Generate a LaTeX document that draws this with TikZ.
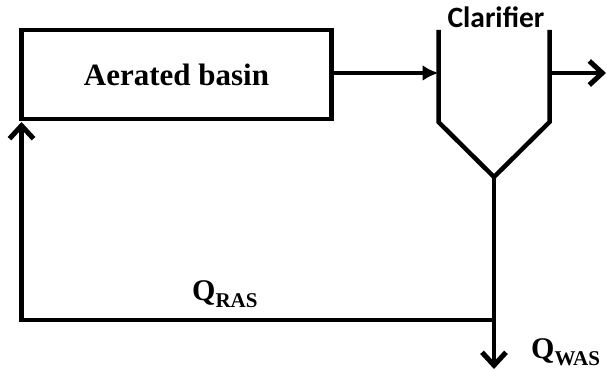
\documentclass[tikz,border=0pt]{standalone}
\usepackage{fontspec}
\setmainfont{Liberation Serif}
\newfontfamily\calfont{Carlito}
\usetikzlibrary{arrows.meta}
\tikzset{
  flow/.style={line width=4.5pt},
  inarrow/.style={flow,-{Latex[length=16pt,width=16pt]}},
  barb/.style={flow,-{Straight Barb[length=13pt,width=24pt,line width=5pt]}},
  qlabel/.style={anchor=base west,inner sep=0pt,font=\bfseries\fontsize{30}{30}\selectfont},
}
\newcommand{\qsub}[1]{\raisebox{-7pt}{\fontsize{21}{21}\selectfont #1}}
\begin{document}
\begin{tikzpicture}[x=1pt,y=-1pt]
\useasboundingbox (0,0) rectangle (607,371);
% aerated basin
\node[draw,flow,minimum width=310pt,minimum height=89pt,inner sep=0pt,
      font=\bfseries\fontsize{31}{31}\selectfont] (basin) at (176.5,74.5) {Aerated basin};
% clarifier
\coordinate (cltl) at (438.5,30);
\coordinate (clbl) at (438.5,122);
\coordinate (cltr) at (549.5,30);
\coordinate (clbr) at (549.5,122);
\coordinate (apex) at (494,177);
\draw[flow,line join=miter] (cltl) -- (clbl) -- (apex) -- (clbr) -- (cltr);
\node[anchor=base,inner sep=0pt,font=\calfont\bfseries\fontsize{29.5}{29.5}\selectfont] (cltext) at (496,27.5) {Clarifier};
% flows
\coordinate (inlet) at (438.5,73);
\coordinate (outlet) at (549.5,73);
\coordinate (effluent) at (606,73);
\coordinate (split) at (494,320);
\coordinate (corner) at (21.5,320);
\coordinate (wasend) at (494,369);
\coordinate (rasend) at (21.5,122);
\draw[inarrow] (basin.east |- inlet) -- (inlet);
\draw[barb] (outlet) -- (effluent);
\draw[barb] (apex) -- (wasend);
\draw[barb] (split) -- (corner) -- (rasend);
% labels
\node[qlabel] (qras) at (192,300) {Q\qsub{RAS}};
\node[qlabel] (qwas) at (531,358) {Q\qsub{WAS}};
\end{tikzpicture}
\end{document}
